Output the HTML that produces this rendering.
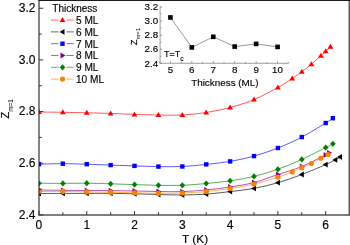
<!DOCTYPE html>
<html><head><meta charset="utf-8"><style>
html,body{margin:0;padding:0;background:#fff;width:350px;height:245px;overflow:hidden}
svg{display:block;will-change:transform}
text{font-family:"Liberation Sans",sans-serif;fill:#000;stroke:#000;stroke-width:0.15}
</style></head><body>
<svg width="350" height="245" viewBox="0 0 350 245">
<defs><clipPath id="pc"><rect x="39" y="0" width="311" height="215"/></clipPath></defs>
<g clip-path="url(#pc)">
<path d="M38.96 112 C42.94 112.05 54.89 112.17 62.86 112.3 C70.82 112.43 78.78 112.62 86.75 112.8 C94.72 112.98 102.68 113.13 110.65 113.4 C118.61 113.67 126.57 114.13 134.54 114.4 C142.5 114.67 150.47 114.9 158.44 115 C166.4 115.1 174.37 115.42 182.33 115 C190.3 114.58 198.26 113.75 206.22 112.5 C214.19 111.25 222.16 109.65 230.12 107.5 C238.09 105.35 246.05 102.93 254.02 99.6 C261.98 96.27 271.54 91.02 277.91 87.5 C284.28 83.98 288.26 81.13 292.25 78.5 C296.23 75.87 298.62 74.08 301.8 71.7 C304.99 69.32 308.18 66.85 311.36 64.2 C314.55 61.55 318.53 57.95 320.92 55.8 C323.31 53.65 324.11 52.8 325.7 51.3 C327.29 49.8 329.68 47.55 330.48 46.8" fill="none" stroke="#ff0000" stroke-width="0.65"/>
<path d="M38.96 193.5 C42.94 193.48 54.89 193.42 62.86 193.4 C70.82 193.38 78.78 193.42 86.75 193.4 C94.72 193.38 102.68 193.23 110.65 193.3 C118.61 193.37 126.57 193.6 134.54 193.8 C142.5 194 150.47 194.3 158.44 194.5 C166.4 194.7 174.37 195.07 182.33 195 C190.3 194.93 198.26 194.67 206.22 194.1 C214.19 193.53 222.16 192.55 230.12 191.6 C238.09 190.65 246.05 189.88 254.02 188.4 C261.98 186.92 269.94 185.02 277.91 182.7 C285.87 180.38 293.84 177.52 301.8 174.5 C309.77 171.48 320.12 167.03 325.7 164.6 C331.28 162.17 332.87 161.17 335.26 159.9 C337.65 158.63 339.24 157.48 340.04 157" fill="none" stroke="#000000" stroke-width="0.65"/>
<path d="M38.96 164.1 C42.94 164.03 54.89 163.68 62.86 163.7 C70.82 163.72 78.78 163.97 86.75 164.2 C94.72 164.43 102.68 164.82 110.65 165.1 C118.61 165.38 126.57 165.65 134.54 165.9 C142.5 166.15 150.47 166.5 158.44 166.6 C166.4 166.7 174.37 166.87 182.33 166.5 C190.3 166.13 198.26 165.25 206.22 164.4 C214.19 163.55 222.16 162.78 230.12 161.4 C238.09 160.02 246.05 158.33 254.02 156.1 C261.98 153.87 269.94 151.17 277.91 148 C285.87 144.83 293.84 141.27 301.8 137.1 C309.77 132.93 320.52 126.15 325.7 123 C330.88 119.85 331.67 119 332.87 118.2" fill="none" stroke="#0000ff" stroke-width="0.65"/>
<path d="M38.96 190 C42.94 190.05 54.89 190.22 62.86 190.3 C70.82 190.38 78.78 190.45 86.75 190.5 C94.72 190.55 102.68 190.52 110.65 190.6 C118.61 190.68 126.57 190.85 134.54 191 C142.5 191.15 150.47 191.4 158.44 191.5 C166.4 191.6 174.37 191.87 182.33 191.6 C190.3 191.33 198.26 190.67 206.22 189.9 C214.19 189.13 222.16 188.23 230.12 187 C238.09 185.77 246.05 184.58 254.02 182.5 C261.98 180.42 269.94 177.17 277.91 174.5 C285.87 171.83 293.84 169.78 301.8 166.5 C309.77 163.22 321.16 157.08 325.7 154.8 C330.24 152.52 328.49 153.13 329.05 152.8" fill="none" stroke="#800080" stroke-width="0.65"/>
<path d="M38.96 183.2 C42.94 183.23 54.89 183.4 62.86 183.4 C70.82 183.4 78.78 183.13 86.75 183.2 C94.72 183.27 102.68 183.57 110.65 183.8 C118.61 184.03 126.57 184.35 134.54 184.6 C142.5 184.85 150.47 185.18 158.44 185.3 C166.4 185.42 174.37 185.6 182.33 185.3 C190.3 185 198.26 184.25 206.22 183.5 C214.19 182.75 222.16 181.98 230.12 180.8 C238.09 179.62 246.05 178.32 254.02 176.4 C261.98 174.48 269.94 172.13 277.91 169.3 C285.87 166.47 293.84 163.02 301.8 159.4 C309.77 155.78 320.52 150.2 325.7 147.6 C330.88 145 331.67 144.43 332.87 143.8" fill="none" stroke="#008000" stroke-width="0.65"/>
<path d="M38.96 191.5 C42.94 191.48 54.89 191.33 62.86 191.4 C70.82 191.47 78.78 191.77 86.75 191.9 C94.72 192.03 102.68 192.05 110.65 192.2 C118.61 192.35 126.57 192.62 134.54 192.8 C142.5 192.98 150.47 193.27 158.44 193.3 C166.4 193.33 174.37 193.28 182.33 193 C190.3 192.72 198.26 192.35 206.22 191.6 C214.19 190.85 222.16 189.75 230.12 188.5 C238.09 187.25 246.05 186.02 254.02 184.1 C261.98 182.18 271.54 179.02 277.91 177 C284.28 174.98 288.26 173.55 292.25 172 C296.23 170.45 298.62 169.12 301.8 167.7 C304.99 166.28 308.18 165.08 311.36 163.5 C314.55 161.92 318.13 159.7 320.92 158.2 C323.71 156.7 326.89 155.12 328.09 154.5" fill="none" stroke="#ff8000" stroke-width="0.65"/>
<path d="M38.96 108.99 L41.86 114.01 L36.06 114.01 Z" fill="#ff0000"/>
<path d="M62.86 109.29 L65.76 114.31 L59.96 114.31 Z" fill="#ff0000"/>
<path d="M86.75 109.79 L89.65 114.81 L83.85 114.81 Z" fill="#ff0000"/>
<path d="M110.65 110.39 L113.55 115.41 L107.75 115.41 Z" fill="#ff0000"/>
<path d="M134.54 111.39 L137.44 116.41 L131.64 116.41 Z" fill="#ff0000"/>
<path d="M158.44 111.99 L161.34 117.01 L155.53 117.01 Z" fill="#ff0000"/>
<path d="M182.33 111.99 L185.23 117.01 L179.43 117.01 Z" fill="#ff0000"/>
<path d="M206.22 109.49 L209.12 114.51 L203.32 114.51 Z" fill="#ff0000"/>
<path d="M230.12 104.49 L233.02 109.51 L227.22 109.51 Z" fill="#ff0000"/>
<path d="M254.02 96.59 L256.92 101.61 L251.12 101.61 Z" fill="#ff0000"/>
<path d="M277.91 84.49 L280.81 89.51 L275.01 89.51 Z" fill="#ff0000"/>
<path d="M292.25 75.49 L295.15 80.51 L289.35 80.51 Z" fill="#ff0000"/>
<path d="M301.8 68.69 L304.7 73.71 L298.9 73.71 Z" fill="#ff0000"/>
<path d="M311.36 61.19 L314.26 66.21 L308.46 66.21 Z" fill="#ff0000"/>
<path d="M320.92 52.79 L323.82 57.81 L318.02 57.81 Z" fill="#ff0000"/>
<path d="M325.7 48.29 L328.6 53.31 L322.8 53.31 Z" fill="#ff0000"/>
<path d="M330.48 43.79 L333.38 48.81 L327.58 48.81 Z" fill="#ff0000"/>
<path d="M35.95 193.5 L40.97 190.6 L40.97 196.4 Z" fill="#000000"/>
<path d="M59.84 193.4 L64.86 190.5 L64.86 196.3 Z" fill="#000000"/>
<path d="M83.74 193.4 L88.76 190.5 L88.76 196.3 Z" fill="#000000"/>
<path d="M107.63 193.3 L112.65 190.4 L112.65 196.2 Z" fill="#000000"/>
<path d="M131.53 193.8 L136.55 190.9 L136.55 196.7 Z" fill="#000000"/>
<path d="M155.42 194.5 L160.44 191.6 L160.44 197.4 Z" fill="#000000"/>
<path d="M179.32 195 L184.34 192.1 L184.34 197.9 Z" fill="#000000"/>
<path d="M203.21 194.1 L208.23 191.2 L208.23 197 Z" fill="#000000"/>
<path d="M227.11 191.6 L232.13 188.7 L232.13 194.5 Z" fill="#000000"/>
<path d="M251 188.4 L256.02 185.5 L256.02 191.3 Z" fill="#000000"/>
<path d="M274.9 182.7 L279.92 179.8 L279.92 185.6 Z" fill="#000000"/>
<path d="M298.79 174.5 L303.81 171.6 L303.81 177.4 Z" fill="#000000"/>
<path d="M322.69 164.6 L327.71 161.7 L327.71 167.5 Z" fill="#000000"/>
<path d="M332.24 159.9 L337.27 157 L337.27 162.8 Z" fill="#000000"/>
<path d="M337.02 157 L342.05 154.1 L342.05 159.9 Z" fill="#000000"/>
<rect x="36.76" y="161.9" width="4.4" height="4.4" fill="#0000ff"/>
<rect x="60.66" y="161.5" width="4.4" height="4.4" fill="#0000ff"/>
<rect x="84.55" y="162" width="4.4" height="4.4" fill="#0000ff"/>
<rect x="108.45" y="162.9" width="4.4" height="4.4" fill="#0000ff"/>
<rect x="132.34" y="163.7" width="4.4" height="4.4" fill="#0000ff"/>
<rect x="156.24" y="164.4" width="4.4" height="4.4" fill="#0000ff"/>
<rect x="180.13" y="164.3" width="4.4" height="4.4" fill="#0000ff"/>
<rect x="204.03" y="162.2" width="4.4" height="4.4" fill="#0000ff"/>
<rect x="227.92" y="159.2" width="4.4" height="4.4" fill="#0000ff"/>
<rect x="251.82" y="153.9" width="4.4" height="4.4" fill="#0000ff"/>
<rect x="275.71" y="145.8" width="4.4" height="4.4" fill="#0000ff"/>
<rect x="299.6" y="134.9" width="4.4" height="4.4" fill="#0000ff"/>
<rect x="323.5" y="120.8" width="4.4" height="4.4" fill="#0000ff"/>
<rect x="330.67" y="116" width="4.4" height="4.4" fill="#0000ff"/>
<path d="M41.97 190 L36.95 187.1 L36.95 192.9 Z" fill="#800080"/>
<path d="M65.87 190.3 L60.85 187.4 L60.85 193.2 Z" fill="#800080"/>
<path d="M89.76 190.5 L84.74 187.6 L84.74 193.4 Z" fill="#800080"/>
<path d="M113.66 190.6 L108.64 187.7 L108.64 193.5 Z" fill="#800080"/>
<path d="M137.55 191 L132.53 188.1 L132.53 193.9 Z" fill="#800080"/>
<path d="M161.45 191.5 L156.43 188.6 L156.43 194.4 Z" fill="#800080"/>
<path d="M185.34 191.6 L180.32 188.7 L180.32 194.5 Z" fill="#800080"/>
<path d="M209.24 189.9 L204.22 187 L204.22 192.8 Z" fill="#800080"/>
<path d="M233.13 187 L228.11 184.1 L228.11 189.9 Z" fill="#800080"/>
<path d="M257.03 182.5 L252.01 179.6 L252.01 185.4 Z" fill="#800080"/>
<path d="M280.92 174.5 L275.9 171.6 L275.9 177.4 Z" fill="#800080"/>
<path d="M304.82 166.5 L299.8 163.6 L299.8 169.4 Z" fill="#800080"/>
<path d="M328.71 154.8 L323.69 151.9 L323.69 157.7 Z" fill="#800080"/>
<path d="M332.06 152.8 L327.04 149.9 L327.04 155.7 Z" fill="#800080"/>
<path d="M38.96 180.1 L41.76 183.2 L38.96 186.3 L36.16 183.2 Z" fill="#008000"/>
<path d="M62.86 180.3 L65.66 183.4 L62.86 186.5 L60.06 183.4 Z" fill="#008000"/>
<path d="M86.75 180.1 L89.55 183.2 L86.75 186.3 L83.95 183.2 Z" fill="#008000"/>
<path d="M110.65 180.7 L113.45 183.8 L110.65 186.9 L107.85 183.8 Z" fill="#008000"/>
<path d="M134.54 181.5 L137.34 184.6 L134.54 187.7 L131.74 184.6 Z" fill="#008000"/>
<path d="M158.44 182.2 L161.24 185.3 L158.44 188.4 L155.63 185.3 Z" fill="#008000"/>
<path d="M182.33 182.2 L185.13 185.3 L182.33 188.4 L179.53 185.3 Z" fill="#008000"/>
<path d="M206.22 180.4 L209.03 183.5 L206.22 186.6 L203.42 183.5 Z" fill="#008000"/>
<path d="M230.12 177.7 L232.92 180.8 L230.12 183.9 L227.32 180.8 Z" fill="#008000"/>
<path d="M254.02 173.3 L256.81 176.4 L254.02 179.5 L251.22 176.4 Z" fill="#008000"/>
<path d="M277.91 166.2 L280.71 169.3 L277.91 172.4 L275.11 169.3 Z" fill="#008000"/>
<path d="M301.8 156.3 L304.6 159.4 L301.8 162.5 L299 159.4 Z" fill="#008000"/>
<path d="M325.7 144.5 L328.5 147.6 L325.7 150.7 L322.9 147.6 Z" fill="#008000"/>
<path d="M332.87 140.7 L335.67 143.8 L332.87 146.9 L330.07 143.8 Z" fill="#008000"/>
<circle cx="38.96" cy="191.5" r="2.6" fill="#ff8000"/>
<circle cx="62.86" cy="191.4" r="2.6" fill="#ff8000"/>
<circle cx="86.75" cy="191.9" r="2.6" fill="#ff8000"/>
<circle cx="110.65" cy="192.2" r="2.6" fill="#ff8000"/>
<circle cx="134.54" cy="192.8" r="2.6" fill="#ff8000"/>
<circle cx="158.44" cy="193.3" r="2.6" fill="#ff8000"/>
<circle cx="182.33" cy="193" r="2.6" fill="#ff8000"/>
<circle cx="206.22" cy="191.6" r="2.6" fill="#ff8000"/>
<circle cx="230.12" cy="188.5" r="2.6" fill="#ff8000"/>
<circle cx="254.02" cy="184.1" r="2.6" fill="#ff8000"/>
<circle cx="277.91" cy="177" r="2.6" fill="#ff8000"/>
<circle cx="292.25" cy="172" r="2.6" fill="#ff8000"/>
<circle cx="301.8" cy="167.7" r="2.6" fill="#ff8000"/>
<circle cx="311.36" cy="163.5" r="2.6" fill="#ff8000"/>
<circle cx="320.92" cy="158.2" r="2.6" fill="#ff8000"/>
<circle cx="328.09" cy="154.5" r="2.6" fill="#ff8000"/>
</g>
<path d="M39 0 V215.6 M349.2 0 V215.6" fill="none" stroke="#222" stroke-width="1.1"/>
<path d="M38.5 215 H349.8" fill="none" stroke="#555" stroke-width="1.3"/>
<path d="M38.5 0.5 H350" fill="none" stroke="#1a1a1a" stroke-width="1"/>
<path d="M39 214.9 h4.2 M39 189.07 h2.8 M39 163.24 h4.2 M39 137.41 h2.8 M39 111.58 h4.2 M39 85.75 h2.8 M39 59.92 h4.2 M39 34.09 h2.8 M39 8.26 h4.2 M38.96 215 v-3.9 M62.86 215 v-2.8 M86.75 215 v-3.9 M110.65 215 v-2.8 M134.54 215 v-3.9 M158.44 215 v-2.8 M182.33 215 v-3.9 M206.22 215 v-2.8 M230.12 215 v-3.9 M254.02 215 v-2.8 M277.91 215 v-3.9 M301.8 215 v-2.8 M325.7 215 v-3.9" stroke="#333" stroke-width="1"/>
<path d="M51 20.1 H58.5 M66.5 20.1 H73.7" stroke="#ff0000" stroke-width="0.6"/>
<path d="M62.5 17.09 L65.4 22.11 L59.6 22.11 Z" fill="#ff0000"/>
<path d="M51 31.9 H58.5 M66.5 31.9 H73.7" stroke="#000000" stroke-width="0.6"/>
<path d="M59.49 31.9 L64.51 29 L64.51 34.8 Z" fill="#000000"/>
<path d="M51 43.7 H58.5 M66.5 43.7 H73.7" stroke="#0000ff" stroke-width="0.6"/>
<rect x="60.3" y="41.5" width="4.4" height="4.4" fill="#0000ff"/>
<path d="M51 55.5 H58.5 M66.5 55.5 H73.7" stroke="#800080" stroke-width="0.6"/>
<path d="M65.51 55.5 L60.49 52.6 L60.49 58.4 Z" fill="#800080"/>
<path d="M51 67.3 H58.5 M66.5 67.3 H73.7" stroke="#008000" stroke-width="0.6"/>
<path d="M62.5 64.2 L65.3 67.3 L62.5 70.4 L59.7 67.3 Z" fill="#008000"/>
<path d="M51 79.1 H58.5 M66.5 79.1 H73.7" stroke="#ff8000" stroke-width="0.6"/>
<circle cx="62.5" cy="79.1" r="2.6" fill="#ff8000"/>
<polyline points="170.41,17.46 191.84,47.41 213.27,36.8 234.7,46.57 256.13,43.9 277.56,46.92" fill="none" stroke="#808080" stroke-width="0.8"/>
<rect x="168.11" y="15.16" width="4.6" height="4.6" fill="#000"/>
<rect x="189.54" y="45.11" width="4.6" height="4.6" fill="#000"/>
<rect x="210.97" y="34.5" width="4.6" height="4.6" fill="#000"/>
<rect x="232.4" y="44.27" width="4.6" height="4.6" fill="#000"/>
<rect x="253.83" y="41.6" width="4.6" height="4.6" fill="#000"/>
<rect x="275.26" y="44.62" width="4.6" height="4.6" fill="#000"/>
<path d="M160.1 6.6 V63.3 H288.4" fill="none" stroke="#a0a0a0" stroke-width="1"/>
<path d="M160.1 63.3 h1.9 M160.1 56.27 h1.3 M160.1 49.24 h1.9 M160.1 42.21 h1.3 M160.1 35.18 h1.9 M160.1 28.15 h1.3 M160.1 21.12 h1.9 M160.1 14.09 h1.3 M160.1 7.06 h1.9 M159.7 63.3 v-1.3 M170.41 63.3 v-1.9 M181.13 63.3 v-1.3 M191.84 63.3 v-1.9 M202.56 63.3 v-1.3 M213.27 63.3 v-1.9 M223.99 63.3 v-1.3 M234.7 63.3 v-1.9 M245.42 63.3 v-1.3 M256.13 63.3 v-1.9 M266.85 63.3 v-1.3 M277.56 63.3 v-1.9 M288.28 63.3 v-1.3" stroke="#888" stroke-width="1"/>
<text x="35.5" y="219.2" text-anchor="end" font-size="12">2.4</text>
<text x="35.5" y="167.34" text-anchor="end" font-size="12">2.6</text>
<text x="35.5" y="115.48" text-anchor="end" font-size="12">2.8</text>
<text x="35.5" y="63.62" text-anchor="end" font-size="12">3.0</text>
<text x="35.5" y="11.76" text-anchor="end" font-size="12">3.2</text>
<text x="38.96" y="228.5" text-anchor="middle" font-size="12">0</text>
<text x="86.75" y="228.5" text-anchor="middle" font-size="12">1</text>
<text x="134.54" y="228.5" text-anchor="middle" font-size="12">2</text>
<text x="182.33" y="228.5" text-anchor="middle" font-size="12">3</text>
<text x="230.12" y="228.5" text-anchor="middle" font-size="12">4</text>
<text x="277.91" y="228.5" text-anchor="middle" font-size="12">5</text>
<text x="325.7" y="228.5" text-anchor="middle" font-size="12">6</text>
<text x="182.1" y="242.6" font-size="11.8">T (K)</text>
<g transform="translate(9.2 118.6) rotate(-90)"><text x="0" y="0" font-size="11.2">Z<tspan font-size="6.4" dy="3.4" style="stroke-width:0">m=1</tspan></text></g>
<text x="52.3" y="12.1" font-size="10">Thickness</text>
<text x="76" y="24" font-size="10.1">5 ML</text>
<text x="76" y="35.8" font-size="10.1">6 ML</text>
<text x="76" y="47.6" font-size="10.1">7 ML</text>
<text x="76" y="59.4" font-size="10.1">8 ML</text>
<text x="76" y="71.2" font-size="10.1">9 ML</text>
<text x="76" y="83" font-size="10.1">10 ML</text>
<text x="158.2" y="66.5" text-anchor="end" font-size="9.8">2.4</text>
<text x="158.2" y="52.44" text-anchor="end" font-size="9.8">2.6</text>
<text x="158.2" y="38.38" text-anchor="end" font-size="9.8">2.8</text>
<text x="158.2" y="24.32" text-anchor="end" font-size="9.8">3.0</text>
<text x="158.2" y="10.26" text-anchor="end" font-size="9.8">3.2</text>
<text x="170.41" y="72.6" text-anchor="middle" font-size="9.8">5</text>
<text x="191.84" y="72.6" text-anchor="middle" font-size="9.8">6</text>
<text x="213.27" y="72.6" text-anchor="middle" font-size="9.8">7</text>
<text x="234.7" y="72.6" text-anchor="middle" font-size="9.8">8</text>
<text x="256.13" y="72.6" text-anchor="middle" font-size="9.8">9</text>
<text x="277.56" y="72.6" text-anchor="middle" font-size="9.8">10</text>
<text x="224.9" y="86" text-anchor="middle" font-size="9.9">Thickness (ML)</text>
<text x="164.1" y="57.3" font-size="9">T=T<tspan font-size="6.8" dy="3.6">c</tspan></text>
<g transform="translate(136.9 45.2) rotate(-90)"><text x="0" y="0" font-size="9.4">Z<tspan font-size="5.8" dy="2.6" style="stroke-width:0">m=1</tspan></text></g>
</svg>
</body></html>
